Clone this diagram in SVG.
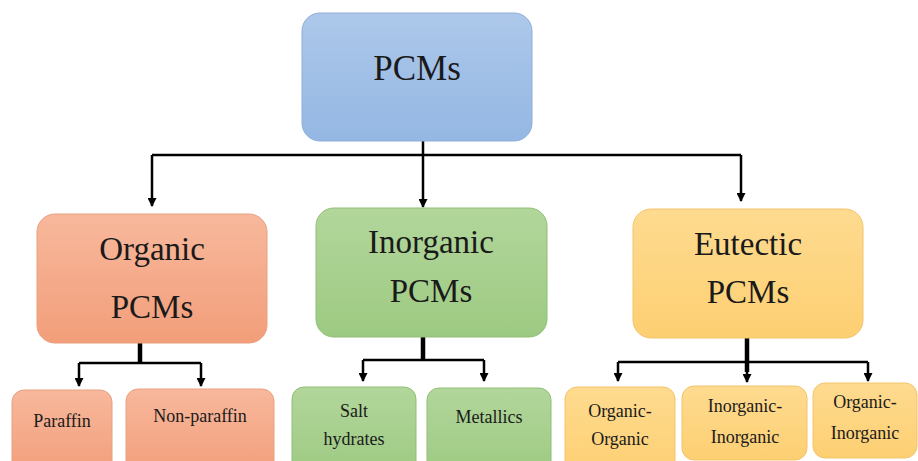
<svg xmlns="http://www.w3.org/2000/svg" width="918" height="461" viewBox="0 0 918 461">
<defs>
<linearGradient id="gBlue" x1="0" y1="0" x2="0" y2="1"><stop offset="0" stop-color="#adc8ea"/><stop offset="1" stop-color="#94b7e3"/></linearGradient>
<linearGradient id="gOrange" x1="0" y1="0" x2="0" y2="1"><stop offset="0" stop-color="#f8b89c"/><stop offset="1" stop-color="#f29e7a"/></linearGradient>
<linearGradient id="gGreen" x1="0" y1="0" x2="0" y2="1"><stop offset="0" stop-color="#b2d69b"/><stop offset="1" stop-color="#9dca82"/></linearGradient>
<linearGradient id="gYellow" x1="0" y1="0" x2="0" y2="1"><stop offset="0" stop-color="#fedb90"/><stop offset="1" stop-color="#fdcf72"/></linearGradient>
<marker id="arr" markerWidth="9" markerHeight="9" refX="8" refY="4.5" orient="auto" markerUnits="userSpaceOnUse" viewBox="0 0 9 9"><path d="M0,0 L9,4.5 L0,9 Z" fill="#000"/></marker>
</defs>
<style>
.blue{fill:url(#gBlue);stroke:#8eaddb;stroke-width:1}
.orange{fill:url(#gOrange);stroke:#e8a080;stroke-width:1}
.green{fill:url(#gGreen);stroke:#8fbf74;stroke-width:1}
.yellow{fill:url(#gYellow);stroke:#f2c46a;stroke-width:1}
text{font-family:"Liberation Serif","DejaVu Serif",serif;fill:#1a1a1a;text-anchor:middle}
.big{font-size:35px}
.mid{font-size:33px}
.small{font-size:18px}
.con{stroke:#000;fill:none;stroke-width:2.5}
.thick{stroke:#000;fill:none;stroke-width:4.5}
</style>
<g id="connectors">
<path class="con" d="M423,141 V207" marker-end="url(#arr)"/>
<path class="con" d="M152,155 H741"/>
<path class="con" d="M152,155 V206" marker-end="url(#arr)"/>
<path class="con" d="M741,155 V201" marker-end="url(#arr)"/>
<path class="thick" d="M140,343 V363"/>
<path class="con" d="M79,363 H201"/>
<path class="con" d="M79,363 V386" marker-end="url(#arr)"/>
<path class="con" d="M201,363 V386" marker-end="url(#arr)"/>
<path class="thick" d="M423,337 V360"/>
<path class="con" d="M363,360 H484"/>
<path class="con" d="M363,360 V381" marker-end="url(#arr)"/>
<path class="con" d="M484,360 V381" marker-end="url(#arr)"/>
<path class="thick" d="M747,338 V372"/>
<path class="con" d="M618,362 H868"/>
<path class="con" d="M618,362 V381" marker-end="url(#arr)"/>
<path class="con" d="M747,362 V382" marker-end="url(#arr)"/>
<path class="con" d="M868,362 V381" marker-end="url(#arr)"/>
</g>
<g id="pcms">
<rect class="blue" x="302" y="13" width="230" height="128" rx="18"/>
<text class="big" x="417" y="80">PCMs</text>
</g>
<g id="organic">
<rect class="orange" x="37" y="214" width="230" height="129" rx="18"/>
<text class="mid" x="152" y="260">Organic</text>
<text class="mid" x="152" y="318">PCMs</text>
</g>
<g id="inorganic">
<rect class="green" x="316" y="208" width="231" height="129" rx="18"/>
<text class="mid" x="431" y="253">Inorganic</text>
<text class="mid" x="431" y="302">PCMs</text>
</g>
<g id="eutectic">
<rect class="yellow" x="633" y="209" width="230" height="129" rx="18"/>
<text class="mid" x="748" y="255">Eutectic</text>
<text class="mid" x="748" y="303">PCMs</text>
</g>
<g id="paraffin">
<rect class="orange" x="12" y="390" width="100" height="85" rx="12"/>
<text class="small" x="62" y="427">Paraffin</text>
</g>
<g id="nonparaffin">
<rect class="orange" x="126" y="389" width="148" height="86" rx="12"/>
<text class="small" x="200" y="422">Non-paraffin</text>
</g>
<g id="salt">
<rect class="green" x="292" y="387" width="124" height="88" rx="12"/>
<text class="small" x="354" y="417">Salt</text>
<text class="small" x="354" y="445">hydrates</text>
</g>
<g id="metallics">
<rect class="green" x="427" y="388" width="124" height="87" rx="12"/>
<text class="small" x="489" y="423">Metallics</text>
</g>
<g id="orgorg">
<rect class="yellow" x="565" y="387" width="110" height="88" rx="12"/>
<text class="small" x="620" y="417">Organic-</text>
<text class="small" x="620" y="445">Organic</text>
</g>
<g id="inorginorg">
<rect class="yellow" x="682" y="386" width="125" height="74" rx="12"/>
<text class="small" x="745" y="412">Inorganic-</text>
<text class="small" x="745" y="443">Inorganic</text>
</g>
<g id="orginorg">
<rect class="yellow" x="813" y="383" width="104" height="75" rx="12"/>
<text class="small" x="865" y="408">Organic-</text>
<text class="small" x="865" y="439">Inorganic</text>
</g>
</svg>
